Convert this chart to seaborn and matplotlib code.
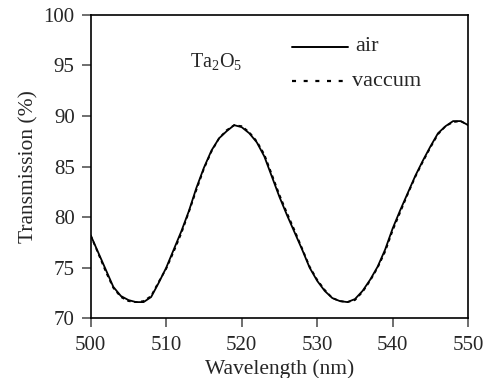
import numpy as np
import pandas as pd
import matplotlib
matplotlib.use("Agg")
import matplotlib.pyplot as plt
import seaborn as sns

# Wavelength grid (nm) and measured transmission (%)
wavelength = list(range(500, 551))
air = [78.2, 76.5, 74.8, 73.1, 72.2, 71.8, 71.6, 71.6, 72.1, 73.5,
       75.0, 76.8, 78.6, 80.6, 82.9, 84.9, 86.6, 87.8, 88.5, 89.1,
       88.9, 88.3, 87.4, 86.0, 84.0, 82.0, 80.2, 78.5, 76.8, 75.0,
       73.7, 72.7, 72.0, 71.7, 71.6, 71.9, 72.7, 73.8, 75.1, 76.8,
       78.9, 80.7, 82.4, 84.1, 85.6, 87.0, 88.3, 89.0, 89.5, 89.5,
       89.1]
vacuum = [78.2, 76.4, 74.6, 73.0, 72.1, 71.7, 71.6, 71.7, 72.2, 73.6,
          74.9, 76.6, 78.4, 80.5, 82.7, 84.8, 86.5, 87.8, 88.6, 89.1,
          89.0, 88.4, 87.5, 86.2, 84.2, 82.2, 80.4, 78.7, 76.9, 75.1,
          73.8, 72.8, 72.0, 71.7, 71.6, 71.8, 72.6, 73.7, 75.0, 76.6,
          78.7, 80.5, 82.3, 84.0, 85.5, 86.9, 88.2, 89.0, 89.4, 89.5,
          89.1]
series_names = ["air", "vaccum"]

df = pd.DataFrame({
    "Wavelength": wavelength * 2,
    "Transmission": air + vacuum,
    "medium": [series_names[0]] * len(air) + [series_names[1]] * len(vacuum),
})

sns.set_theme(style="ticks")
plt.rcParams["font.family"] = ["Liberation Serif", "DejaVu Serif"]
plt.rcParams["mathtext.fontset"] = "custom"
plt.rcParams["mathtext.rm"] = "Liberation Serif"
plt.rcParams["lines.scale_dashes"] = False

fig = plt.figure(figsize=(4.89, 3.78), dpi=100)
ax = fig.add_axes([0.1855, 0.158, 0.772, 0.8025])

sns.lineplot(data=df, x="Wavelength", y="Transmission", style="medium",
             dashes={"air": "", "vaccum": (2.5, 2.5)}, color="black",
             linewidth=1.3, ax=ax, legend=False)

# Legend drawn manually with explicit line samples
ax.plot([526.6, 534.1], [96.85, 96.85], color="black", lw=1.4)
ax.plot([526.6, 534.4], [93.45, 93.45], color="black", lw=1.6,
        dashes=(2.9, 5.5))
ax.text(535.0, 96.85, "air", fontsize=16, va="center", ha="left")
ax.text(534.6, 93.45, "vaccum", fontsize=16, va="center", ha="left")
ax.text(513.2, 95.3, r"Ta$_2$O$_5$", fontsize=14.5, va="center", ha="left")

ax.set_xlim(500, 550)
ax.set_ylim(70, 100)
ax.set_xticks([500, 510, 520, 530, 540, 550])
ax.set_yticks([70, 75, 80, 85, 90, 95, 100])
ax.set_xlabel("Wavelength (nm)", fontsize=15.5, labelpad=3)
ax.set_ylabel("Transmission (%)", fontsize=15.5, labelpad=4)
ax.tick_params(axis="both", direction="out", length=6.5, width=1.2,
               labelsize=15, color="#555555")
ax.tick_params(axis="x", pad=6)
ax.tick_params(axis="y", pad=5)
for s in ax.spines.values():
    s.set_linewidth(1.2)
    s.set_color("black")

fig.savefig("out.png", dpi=100)
